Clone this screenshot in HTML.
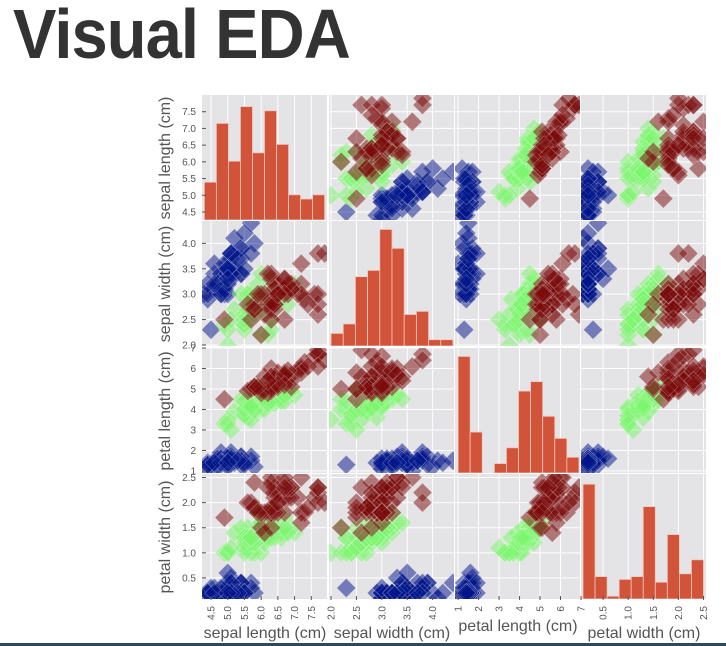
<!DOCTYPE html>
<html><head><meta charset="utf-8"><style>
body{margin:0;background:#fff;width:726px;height:646px;overflow:hidden;}
#title{position:absolute;left:13px;top:-6px;font:bold 70px "Liberation Sans",sans-serif;color:#333;transform:scaleX(0.93);transform-origin:0 0;letter-spacing:-1px;white-space:nowrap;}
svg{position:absolute;left:0;top:0;}
#bar{position:absolute;left:0;top:643px;width:726px;height:3px;background:#2c4a5e;}
</style></head><body>
<div id="title">Visual EDA</div>
<svg id="chart" width="726" height="646"></svg>
<div id="bar"></div>
<script>
const featureNames = ["sepal length (cm)","sepal width (cm)","petal length (cm)","petal width (cm)"];
const speciesColors = ["#00138a","#7cf56e","#7a0a0a"];
const axisRanges = [[4.23,8.0],[1.96,4.44],[0.85,7.0],[0.06,2.57]];
const tickValues = [[4.5,5.0,5.5,6.0,6.5,7.0,7.5],[2.0,2.5,3.0,3.5,4.0],[1,2,3,4,5,6,7],[0.5,1.0,1.5,2.0,2.5]];
const tickLabels = [["4.5","5.0","5.5","6.0","6.5","7.0","7.5"],["2.0","2.5","3.0","3.5","4.0"],["1","2","3","4","5","6","7"],["0.5","1.0","1.5","2.0","2.5"]];
const histYMax = [30,40,40,45];
const setosa = [
[5.1,3.5,1.4,0.2],[4.9,3.0,1.4,0.2],[4.7,3.2,1.3,0.2],[4.6,3.1,1.5,0.2],[5.0,3.6,1.4,0.2],[5.4,3.9,1.7,0.4],[4.6,3.4,1.4,0.3],[5.0,3.4,1.5,0.2],[4.4,2.9,1.4,0.2],[4.9,3.1,1.5,0.1],
[5.4,3.7,1.5,0.2],[4.8,3.4,1.6,0.2],[4.8,3.0,1.4,0.1],[4.3,3.0,1.1,0.1],[5.8,4.0,1.2,0.2],[5.7,4.4,1.5,0.4],[5.4,3.9,1.3,0.4],[5.1,3.5,1.4,0.3],[5.7,3.8,1.7,0.3],[5.1,3.8,1.5,0.3],
[5.4,3.4,1.7,0.2],[5.1,3.7,1.5,0.4],[4.6,3.6,1.0,0.2],[5.1,3.3,1.7,0.5],[4.8,3.4,1.9,0.2],[5.0,3.0,1.6,0.2],[5.0,3.4,1.6,0.4],[5.2,3.5,1.5,0.2],[5.2,3.4,1.4,0.2],[4.7,3.2,1.6,0.2],
[4.8,3.1,1.6,0.2],[5.4,3.4,1.5,0.4],[5.2,4.1,1.5,0.1],[5.5,4.2,1.4,0.2],[4.9,3.1,1.5,0.2],[5.0,3.2,1.2,0.2],[5.5,3.5,1.3,0.2],[4.9,3.6,1.4,0.1],[4.4,3.0,1.3,0.2],[5.1,3.4,1.5,0.2],
[5.0,3.5,1.3,0.3],[4.5,2.3,1.3,0.3],[4.4,3.2,1.3,0.2],[5.0,3.5,1.6,0.6],[5.1,3.8,1.9,0.4],[4.8,3.0,1.4,0.3],[5.1,3.8,1.6,0.2],[4.6,3.2,1.4,0.2],[5.3,3.7,1.5,0.2],[5.0,3.3,1.4,0.2]];
const versicolor = [
[7.0,3.2,4.7,1.4],[6.4,3.2,4.5,1.5],[6.9,3.1,4.9,1.5],[5.5,2.3,4.0,1.3],[6.5,2.8,4.6,1.5],[5.7,2.8,4.5,1.3],[6.3,3.3,4.7,1.6],[4.9,2.4,3.3,1.0],[6.6,2.9,4.6,1.3],[5.2,2.7,3.9,1.4],
[5.0,2.0,3.5,1.0],[5.9,3.0,4.2,1.5],[6.0,2.2,4.0,1.0],[6.1,2.9,4.7,1.4],[5.6,2.9,3.6,1.3],[6.7,3.1,4.4,1.4],[5.6,3.0,4.5,1.5],[5.8,2.7,4.1,1.0],[6.2,2.2,4.5,1.5],[5.6,2.5,3.9,1.1],
[5.9,3.2,4.8,1.8],[6.1,2.8,4.0,1.3],[6.3,2.5,4.9,1.5],[6.1,2.8,4.7,1.2],[6.4,2.9,4.3,1.3],[6.6,3.0,4.4,1.4],[6.8,2.8,4.8,1.4],[6.7,3.0,5.0,1.7],[6.0,2.9,4.5,1.5],[5.7,2.6,3.5,1.0],
[5.5,2.4,3.8,1.1],[5.5,2.4,3.7,1.0],[5.8,2.7,3.9,1.2],[6.0,2.7,5.1,1.6],[5.4,3.0,4.5,1.5],[6.0,3.4,4.5,1.6],[6.7,3.1,4.7,1.5],[6.3,2.3,4.4,1.3],[5.6,3.0,4.1,1.3],[5.5,2.5,4.0,1.3],
[5.5,2.6,4.4,1.2],[6.1,3.0,4.6,1.4],[5.8,2.6,4.0,1.2],[5.0,2.3,3.3,1.0],[5.6,2.7,4.2,1.3],[5.7,3.0,4.2,1.2],[5.7,2.9,4.2,1.3],[6.2,2.9,4.3,1.3],[5.1,2.5,3.0,1.1],[5.7,2.8,4.1,1.3]];
const virginica = [
[6.3,3.3,6.0,2.5],[5.8,2.7,5.1,1.9],[7.1,3.0,5.9,2.1],[6.3,2.9,5.6,1.8],[6.5,3.0,5.8,2.2],[7.6,3.0,6.6,2.1],[4.9,2.5,4.5,1.7],[7.3,2.9,6.3,1.8],[6.7,2.5,5.8,1.8],[7.2,3.6,6.1,2.5],
[6.5,3.2,5.1,2.0],[6.4,2.7,5.3,1.9],[6.8,3.0,5.5,2.1],[5.7,2.5,5.0,2.0],[5.8,2.8,5.1,2.4],[6.4,3.2,5.3,2.3],[6.5,3.0,5.5,1.8],[7.7,3.8,6.7,2.2],[7.7,2.6,6.9,2.3],[6.0,2.2,5.0,1.5],
[6.9,3.2,5.7,2.3],[5.6,2.8,4.9,2.0],[7.7,2.8,6.7,2.0],[6.3,2.7,4.9,1.8],[6.7,3.3,5.7,2.1],[7.2,3.2,6.0,1.8],[6.2,2.8,4.8,1.8],[6.1,3.0,4.9,1.8],[6.4,2.8,5.6,2.1],[7.2,3.0,5.8,1.6],
[7.4,2.8,6.1,1.9],[7.9,3.8,6.4,2.0],[6.4,2.8,5.6,2.2],[6.3,2.8,5.1,1.5],[6.1,2.6,5.6,1.4],[7.7,3.0,6.1,2.3],[6.3,3.4,5.6,2.4],[6.4,3.1,5.5,1.8],[6.0,3.0,4.8,1.8],[6.9,3.1,5.4,2.1],
[6.7,3.1,5.6,2.4],[6.9,3.1,5.1,2.3],[5.8,2.7,5.1,1.9],[6.8,3.2,5.9,2.3],[6.7,3.3,5.7,2.5],[6.7,3.0,5.2,2.3],[6.3,2.5,5.0,1.9],[6.5,3.0,5.2,2.0],[6.2,3.4,5.4,2.3],[5.9,3.0,5.1,1.8]];

const NS="http://www.w3.org/2000/svg";
const svg=document.getElementById('chart');
const X0=[202,329,455,581], Y0=[95,221,348,474], S=126;
function el(tag,attrs,parent){const e=document.createElementNS(NS,tag);for(const k in attrs)e.setAttribute(k,attrs[k]);(parent||svg).appendChild(e);return e;}
function xs(c,v){const r=axisRanges[c];return X0[c]+(v-r[0])/(r[1]-r[0])*S;}
function ys(rw,v){const r=axisRanges[rw];return Y0[rw]+S-(v-r[0])/(r[1]-r[0])*S;}
const groups=[setosa,versicolor,virginica];
const defs=el('defs',{});
for(let r=0;r<4;r++)for(let c=0;c<4;c++){
  const cp=el('clipPath',{id:'cp'+r+c},defs);
  el('rect',{x:X0[c],y:Y0[r],width:S-1,height:S-1},cp);
}
for(let r=0;r<4;r++)for(let c=0;c<4;c++){
  const g=el('g',{'clip-path':'url(#cp'+r+c+')'});
  
  
  const bg=el('rect',{x:X0[c],y:Y0[r],width:S-1,height:S-1,fill:'#e4e3e5'},g);
  
  
  tickValues[c].forEach(v=>{const x=xs(c,v);el('line',{x1:x,x2:x,y1:Y0[r],y2:Y0[r]+S,stroke:'#fff','stroke-width':1},g);});
  if(r!==c) tickValues[r].forEach(v=>{const y=ys(r,v);el('line',{x1:X0[c],x2:X0[c]+S,y1:y,y2:y,stroke:'#fff','stroke-width':1},g);});
  if(r===c){
    const all=setosa.concat(versicolor,virginica).map(d=>d[c]);
    const mn=Math.min(...all),mx=Math.max(...all),bw=(mx-mn)/10;
    const counts=new Array(10).fill(0);
    all.forEach(v=>{let i=Math.floor((v-mn)/bw+1e-9);if(i>9)i=9;counts[i]++;});
    counts.forEach((n,i)=>{
      const x1=xs(c,mn+i*bw),x2=xs(c,mn+(i+1)*bw);
      const h=n/histYMax[c]*S;
      const b=el('rect',{x:x1,y:Y0[r]+S-1-h,width:x2-x1,height:h,fill:'#d1533a',stroke:'#f0c8bc','stroke-width':0.8},g);
      
      
    });
  } else {
    groups.forEach((grp,gi)=>grp.forEach(d=>{
      const x=xs(c,d[c]),y=ys(r,d[r]),s=9.5;
      const p=el('polygon',{points:`${x},${y-s} ${x+s},${y} ${x},${y+s} ${x-s},${y}`,fill:speciesColors[gi],'fill-opacity':0.5,stroke:'#fff','stroke-opacity':0.25,'stroke-width':0.8},g);
      
      
    }));
  }
}
for(let r=0;r<4;r++){
  tickValues[r].forEach((v,i)=>{
    const y=ys(r,v);
    el('line',{x1:X0[0],x2:X0[0]+4,y1:y,y2:y,stroke:'#555','stroke-width':1});
    const t=el('text',{x:X0[0]-6,y:y+3.5,'text-anchor':'end','font-size':10,fill:'#555','font-family':'Liberation Sans, sans-serif'});
    t.textContent=tickLabels[r][i];
    
    
  });
  const cy=Y0[r]+S/2;
  const lab=el('text',{x:0,y:0,transform:`translate(170,${cy}) rotate(-90)`,'text-anchor':'middle','font-size':16,fill:'#555','font-family':'Liberation Sans, sans-serif'});
  lab.textContent=featureNames[r];
  
  
}
for(let c=0;c<4;c++){
  let maxLen=0;
  tickValues[c].forEach((v,i)=>{
    const x=xs(c,v);
    el('line',{x1:x,x2:x,y1:Y0[3]+S-4,y2:Y0[3]+S,stroke:'#555','stroke-width':1});
    const t=el('text',{x:0,y:0,transform:`translate(${x+3.5},${Y0[3]+S+6}) rotate(-90)`,'text-anchor':'end','font-size':10,fill:'#555','font-family':'Liberation Sans, sans-serif'});
    t.textContent=tickLabels[c][i];
    
    
    maxLen=Math.max(maxLen,tickLabels[c][i].length);
  });
  const by=maxLen>1?638:631;
  const lab=el('text',{x:X0[c]+S/2,y:by,'text-anchor':'middle','font-size':16,fill:'#555','font-family':'Liberation Sans, sans-serif'});
  lab.textContent=featureNames[c];
  
  
}
</script>
</body></html>
